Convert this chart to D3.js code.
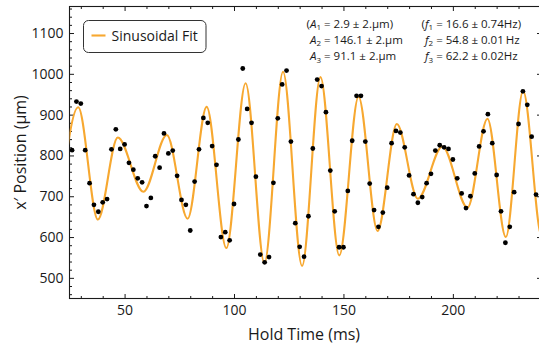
<!DOCTYPE html>
<html>
<head>
<meta charset="utf-8">
<script src="https://cdn.jsdelivr.net/npm/d3@7"></script>
<style>
  html, body { margin: 0; padding: 0; background: #fff; }
  svg { display: block; font-family: "Open Sans", sans-serif; }
</style>
</head>
<body>
<svg id="chart" width="539" height="350"></svg>
<script>
// ---------- data ----------
const holdTime = [26,28,30,32,34,36,38,40,42,44,46,48,50,52,54,56,58,60,62,64,66,68,70,72,74,76,78,80,82,84,86,88,90,92,94,96,98,100,102,104,106,108,110,112,114,116,118,120,122,124,126,128,130,132,134,136,138,140,142,144,146,148,150,152,154,156,158,160,162,164,166,168,170,172,174,176,178,180,182,184,186,188,190,192,194,196,198,200,202,204,206,208,210,212,214,216,218,220,222,224,226,228,230,232,234,236,238];
const position = [813,932,927,813,732,679,662,685,693,815,864,816,827,782,765,744,734,676,696,798,770,854,805,812,750,691,679,616,736,815,892,880,823,777,600,612,592,681,839,1013,914,880,748,557,538,551,733,891,974,1008,834,634,576,552,651,817,986,970,906,763,663,575,575,713,836,946,946,834,731,666,625,660,721,830,860,856,820,751,705,684,698,732,755,812,825,820,816,790,744,707,671,700,756,822,859,901,830,752,663,586,625,710,877,957,924,846,704];

// sinusoidal fit curve: turning points
const fitTime  = [20.0, 28.8, 37.8, 46.9, 58.6, 69.3, 78.8, 87.5, 96.5, 105.3, 113.9, 122.4, 131.1, 139.5, 148.1, 156.9, 165.6, 174.4, 184.0, 195.2, 206.7, 215.8, 224.2, 232.1, 240.7, 249.0];
const fitValue = [650, 918, 643, 844, 711, 850, 645, 919, 573, 977, 536, 1005, 529, 992, 555, 944, 615, 877, 694, 822, 672, 890, 600, 958, 600, 900];

const xMajorTicks = [50, 100, 150, 200];
const xMinorTicks = [30, 40, 60, 70, 80, 90, 110, 120, 130, 140, 160, 170, 180, 190, 210, 220, 230, 240];
const yMajorTicks = [500, 600, 700, 800, 900, 1000, 1100];
const yMinorTicks = [460, 480, 520, 540, 560, 580, 620, 640, 660, 680, 720, 740, 760, 780, 820, 840, 860, 880, 920, 940, 960, 980, 1020, 1040, 1060, 1080, 1120, 1140, 1160];

const xTitle = "Hold Time (ms)";
const yTitle = "x\u2032 Position (\u03bcm)";
const legendLabel = "Sinusoidal Fit";

const ampSymbols = ["A", "A", "A"];
const ampSubs = ["1", "2", "3"];
const ampTexts = [" = 2.9 \u00b1 2.\u03bcm", " = 146.1 \u00b1 2.\u03bcm", " = 91.1 \u00b1 2.\u03bcm"];
const freqSymbols = ["f", "f", "f"];
const freqSubs = ["1", "2", "3"];
const freqTexts = [" = 16.6 \u00b1 0.74Hz", " = 54.8 \u00b1 0.01\u2009Hz", " = 62.2 \u00b1 0.02Hz"];
const parenthesized = [true, false, false];

// ---------- layout ----------
const svg = d3.select("#chart");
const L = 69.5, R = 541.5, T = 6.5, B = 298.5;
const fitColor = "#F7A830";
const ink = "#1a1a1a";

const x = d3.scaleLinear().domain([24.83, 240.5]).range([L, R]);
const y = d3.scaleLinear().domain([449.4, 1165]).range([B, T]);

svg.append("defs").append("clipPath").attr("id", "plotClip")
  .append("rect").attr("x", L).attr("y", T).attr("width", R - L).attr("height", B - T);

// ---------- axes (ticks point inward) ----------
function styleAxis(g) {
  g.select(".domain").remove();
  g.selectAll(".tick line").attr("stroke", ink).attr("stroke-width", 1);
  g.selectAll(".tick text").attr("fill", ink).style("font-size", "14px").style("font-family", "'Open Sans', sans-serif");
}
// bottom
svg.append("g").attr("transform", `translate(0,${B})`)
  .call(d3.axisBottom(x).tickValues(xMajorTicks).tickSizeInner(-4.5).tickSizeOuter(0).tickPadding(7).tickFormat(d3.format("d")))
  .call(styleAxis);
svg.append("g").attr("transform", `translate(0,${B})`)
  .call(d3.axisBottom(x).tickValues(xMinorTicks).tickSizeInner(-2.5).tickSizeOuter(0).tickFormat(""))
  .call(styleAxis);
// top
svg.append("g").attr("transform", `translate(0,${T})`)
  .call(d3.axisTop(x).tickValues(xMajorTicks).tickSizeInner(-4.5).tickSizeOuter(0).tickFormat(""))
  .call(styleAxis);
svg.append("g").attr("transform", `translate(0,${T})`)
  .call(d3.axisTop(x).tickValues(xMinorTicks).tickSizeInner(-2.5).tickSizeOuter(0).tickFormat(""))
  .call(styleAxis);
// left
svg.append("g").attr("transform", `translate(${L},0)`)
  .call(d3.axisLeft(y).tickValues(yMajorTicks).tickSizeInner(-4.5).tickSizeOuter(0).tickPadding(6).tickFormat(d3.format("d")))
  .call(styleAxis);
svg.append("g").attr("transform", `translate(${L},0)`)
  .call(d3.axisLeft(y).tickValues(yMinorTicks).tickSizeInner(-2.5).tickSizeOuter(0).tickFormat(""))
  .call(styleAxis);
// right
svg.append("g").attr("transform", `translate(${R},0)`)
  .call(d3.axisRight(y).tickValues(yMajorTicks).tickSizeInner(-4.5).tickSizeOuter(0).tickFormat(""))
  .call(styleAxis);
svg.append("g").attr("transform", `translate(${R},0)`)
  .call(d3.axisRight(y).tickValues(yMinorTicks).tickSizeInner(-2.5).tickSizeOuter(0).tickFormat(""))
  .call(styleAxis);

// frame
svg.append("rect").attr("x", L).attr("y", T).attr("width", R - L).attr("height", B - T)
  .attr("fill", "none").attr("stroke", ink).attr("stroke-width", 1.1);

// ---------- fit curve ----------
const line = d3.line().x((d, i) => x(fitTime[i])).y((d, i) => y(fitValue[i])).curve(d3.curveMonotoneX);
svg.append("path").datum(fitValue)
  .attr("clip-path", "url(#plotClip)")
  .attr("d", line)
  .attr("fill", "none").attr("stroke", fitColor).attr("stroke-width", 2.1);

// ---------- data points ----------
svg.append("g").attr("clip-path", "url(#plotClip)")
  .selectAll("circle").data(position).join("circle")
  .attr("cx", (d, i) => x(holdTime[i]))
  .attr("cy", d => y(d))
  .attr("r", 2.4)
  .attr("fill", "#000");

// ---------- axis titles ----------
svg.append("text").attr("x", (L + R - 3) / 2).attr("y", 340)
  .attr("text-anchor", "middle").attr("fill", ink)
  .style("font-size", "16px").text(xTitle);
svg.append("text").attr("transform", `translate(25.5,${(T + B) / 2}) rotate(-90)`)
  .attr("text-anchor", "middle").attr("fill", ink)
  .style("font-size", "16px").text(yTitle);

// ---------- legend ----------
const lg = svg.append("g");
lg.append("rect").attr("x", 83.5).attr("y", 20.5).attr("width", 122.5).attr("height", 32)
  .attr("rx", 5).attr("ry", 5).attr("fill", "#fff").attr("stroke", "#333").attr("stroke-width", 1);
lg.append("line").attr("x1", 91.5).attr("x2", 105.5).attr("y1", 35.5).attr("y2", 35.5)
  .attr("stroke", fitColor).attr("stroke-width", 2.1);
lg.append("text").attr("x", 111.5).attr("y", 40.5).attr("fill", ink)
  .style("font-size", "14px").text(legendLabel);

// ---------- fit-parameter annotation ----------
const rowY = [27.7, 43.7, 60];
function richLine(xPos, yPos, sym, sub, rest, paren) {
  if (paren) {
    svg.append("text").attr("x", xPos).attr("y", yPos).attr("text-anchor", "end")
      .attr("fill", ink).style("font-size", "11.5px").text("(");
  }
  const t = svg.append("text").attr("x", xPos).attr("y", yPos).attr("fill", ink).style("font-size", "11.5px");
  t.append("tspan").style("font-style", "italic").text(sym);
  t.append("tspan").attr("dy", 2.5).style("font-size", "8px").text(sub);
  t.append("tspan").attr("dy", -2.5).text(rest + (paren ? ")" : ""));
}
for (let i = 0; i < 3; i++) {
  richLine(310, rowY[i], ampSymbols[i], ampSubs[i], ampTexts[i], parenthesized[i]);
  richLine(425, rowY[i], freqSymbols[i], freqSubs[i], freqTexts[i], parenthesized[i]);
}
</script>
</body>
</html>
